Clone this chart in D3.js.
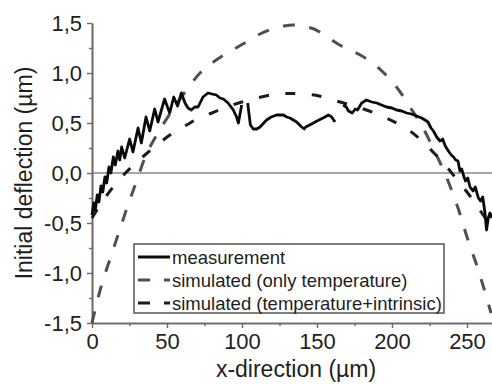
<!DOCTYPE html>
<html><head><meta charset="utf-8">
<script src="https://cdn.jsdelivr.net/npm/d3@7/dist/d3.min.js"></script>
<style>
html,body{margin:0;padding:0;background:#fff;}
svg{display:block;font-family:"Liberation Sans",Arial,sans-serif;}
</style></head>
<body>
<svg id="chart" width="492" height="385"></svg>
<script>
// ---- data ----
const xTickValues = [0, 50, 100, 150, 200, 250];
const xTickLabels = ["0", "50", "100", "150", "200", "250"];
const yTickValues = [-1.5, -1.0, -0.5, 0.0, 0.5, 1.0, 1.5];
const yTickLabels = ["-1,5", "-1,0", "-0,5", "0,0", "0,5", "1,0", "1,5"];
const xMinorTicks = [25, 75, 125, 175, 225];
const yMinorTicks = [-1.25, -0.75, -0.25, 0.25, 0.75, 1.25];
const legendLabels = ["measurement", "simulated (only temperature)", "simulated (temperature+intrinsic)"];
const xTitle = "x-direction (µm)";
const yTitle = "Initial deflection (µm)";

// measurement (null = gap)
const measX = [0,1.2,2.2,3.5,4.6,6.0,7.2,8.6,9.8,11.3,12.6,14.2,15.5,17.3,18.5,19.8,21.8,25.1,27.3,30.7,32.9,36.0,38.5,41.8,44.0,48.4,51.8,54.5,57.0,59.6,62.0,64.0,66.2,68.5,70.7,74.0,77.3,80.0,82.9,85.3,87.6,90.7,94.2,96.4,97.6,98.8,99.8,
  101.8,
  103.8,104.6,105.6,107.5,109.8,112.0,116.4,119.5,123.0,127.6,129.8,132.0,136.4,139.8,141.5,142.5,146.4,150.0,154.0,157.6,159.8,162.0,
  165.0,
  167.5,169.5,171.0,173.5,175.5,177.0,179.8,183.0,186.5,189.8,193.0,196.4,200.0,203.0,206.5,209.8,213.0,216.4,219.8,222.0,224.0,226.0,227.6,229.8,232.0,233.8,235.5,237.6,239.5,241.0,242.5,244.0,245.3,246.5,247.6,249.0,250.5,252.0,254.0,255.5,257.6,259.0,260.5,262.0,263.0,264.2,265.3,266.5];
const measY = [-0.42,-0.30,-0.37,-0.22,-0.29,-0.13,-0.19,-0.04,-0.10,0.06,0.00,0.16,0.08,0.22,0.13,0.26,0.15,0.34,0.21,0.45,0.30,0.56,0.42,0.64,0.51,0.74,0.60,0.76,0.67,0.80,0.70,0.65,0.63,0.66,0.66,0.76,0.80,0.79,0.78,0.75,0.74,0.70,0.63,0.56,0.50,0.60,0.68,
  null,
  0.70,0.60,0.48,0.44,0.44,0.46,0.53,0.56,0.58,0.58,0.56,0.55,0.51,0.46,0.44,0.46,0.49,0.52,0.55,0.58,0.56,0.51,
  null,
  0.68,0.66,0.62,0.60,0.64,0.63,0.70,0.73,0.71,0.70,0.68,0.66,0.65,0.63,0.62,0.60,0.59,0.57,0.55,0.53,0.51,0.45,0.42,0.36,0.32,0.34,0.27,0.22,0.18,0.16,0.13,0.12,0.02,0.04,-0.02,-0.08,-0.05,-0.14,-0.18,-0.14,-0.25,-0.28,-0.24,-0.40,-0.57,-0.45,-0.40,-0.45];

// simulated (only temperature)
const simTempX = [0,6,12,18,24,30,36,42,48,56,64,72,80,88,96,104,112,120,128,134,140,148,156,164,172,180,188,196,204,212,220,228,236,244,250,256,261,266];
const simTempY = [-1.5,-1.14,-0.86,-0.59,-0.32,-0.07,0.18,0.35,0.5,0.68,0.85,1.0,1.1,1.18,1.25,1.32,1.39,1.44,1.47,1.48,1.47,1.44,1.37,1.29,1.23,1.17,1.09,0.98,0.84,0.66,0.47,0.23,-0.03,-0.35,-0.64,-0.9,-1.14,-1.4];

// simulated (temperature+intrinsic)
const simIntX = [0,5,10,18,27,36,45,53,62,70,80,89,100,110,123,132,141,150,158,170,182,194,203,212,220,228,236,244,252,259,266];
const simIntY = [-0.45,-0.33,-0.22,-0.07,0.07,0.19,0.3,0.39,0.47,0.54,0.6,0.655,0.71,0.75,0.79,0.795,0.79,0.775,0.74,0.69,0.635,0.565,0.5,0.42,0.32,0.2,0.07,-0.08,-0.23,-0.38,-0.53];

// ---- layout ----
const svg = d3.select("#chart");
const L = 92, R = 492, T = 23, B = 323;
const x = d3.scaleLinear().domain([0, 266.67]).range([L, R]);
const y = d3.scaleLinear().domain([-1.5, 1.5]).range([B, T]);
const axisCol = "#6a6a6a", textCol = "#1e1e1e";

// zero line
svg.append("line").attr("x1", L).attr("x2", R).attr("y1", y(0)).attr("y2", y(0))
  .attr("stroke", "#8a8a8a").attr("stroke-width", 1.6);

// axes
const xAxis = svg.append("g").attr("transform", `translate(0,${B})`)
  .call(d3.axisBottom(x).tickValues(xTickValues).tickFormat((d,i)=>xTickLabels[i]).tickSize(5).tickSizeOuter(0).tickPadding(4));
const xMinor = svg.append("g").attr("transform", `translate(0,${B})`)
  .call(d3.axisBottom(x).tickValues(xMinorTicks).tickFormat("").tickSize(3).tickSizeOuter(0));
const yAxis = svg.append("g").attr("transform", `translate(${L},0)`)
  .call(d3.axisLeft(y).tickValues(yTickValues).tickFormat((d,i)=>yTickLabels[i]).tickSize(5).tickSizeOuter(0).tickPadding(5));
const yMinor = svg.append("g").attr("transform", `translate(${L},0)`)
  .call(d3.axisLeft(y).tickValues(yMinorTicks).tickFormat("").tickSize(3).tickSizeOuter(0));
[xAxis, xMinor, yAxis, yMinor].forEach(g => {
  g.selectAll(".domain").attr("stroke", axisCol).attr("stroke-width", 1.6);
  g.selectAll(".tick line").attr("stroke", axisCol).attr("stroke-width", 1.4);
  g.selectAll(".tick text").attr("fill", textCol).attr("font-size", 22)
    .attr("font-family", "'Liberation Sans', Arial, sans-serif");
});
xAxis.selectAll(".tick text").attr("dy", "0.78em");

// titles
svg.append("text").attr("x", (L + R) / 2 + 4).attr("y", 377).attr("text-anchor", "middle")
  .attr("font-size", 23).attr("fill", textCol).text(xTitle);
svg.append("text").attr("transform", `translate(32,${(T + B) / 2}) rotate(-90)`).attr("text-anchor", "middle")
  .attr("font-size", 23).attr("fill", textCol).text(yTitle);

// lines
const mk = (xs, ys) => xs.map((v, i) => [v, ys[i]]);
const lineSmooth = d3.line().x(d => x(d[0])).y(d => y(d[1])).curve(d3.curveCatmullRom.alpha(0.5));
const lineRaw = d3.line().defined(d => d[1] !== null).x(d => x(d[0])).y(d => y(d[1]));

const plot = svg.append("g");
plot.append("path").attr("d", lineSmooth(mk(simTempX, simTempY))).attr("fill", "none")
  .attr("stroke", "#505050").attr("stroke-width", 3).attr("stroke-dasharray", "12,14.5");
plot.append("path").attr("d", lineSmooth(mk(simIntX, simIntY))).attr("fill", "none")
  .attr("stroke", "#1c1c1c").attr("stroke-width", 3).attr("stroke-dasharray", "10,16.5");
plot.append("path").attr("d", lineRaw(mk(measX, measY))).attr("fill", "none")
  .attr("stroke", "#0a0a0a").attr("stroke-width", 2.8).attr("stroke-linejoin", "round");

// legend
const lg = svg.append("g");
lg.append("rect").attr("x", 134).attr("y", 244).attr("width", 310).attr("height", 69)
  .attr("fill", "#fff").attr("stroke", "#555").attr("stroke-width", 1.5);
const legStyles = [
  {col: "#0a0a0a", dash: null},
  {col: "#505050", dash: "12,14"},
  {col: "#1c1c1c", dash: "12,14"}
];
const rowY = [257, 280, 303];
legendLabels.forEach((lab, i) => {
  const ln = lg.append("line").attr("x1", 138).attr("x2", 170).attr("y1", rowY[i]).attr("y2", rowY[i])
    .attr("stroke", legStyles[i].col).attr("stroke-width", 3);
  if (legStyles[i].dash) ln.attr("stroke-dasharray", legStyles[i].dash);
  lg.append("text").attr("x", 172).attr("y", rowY[i] + 6.5).attr("font-size", 18.5)
    .attr("fill", textCol).text(lab);
});
</script>
</body></html>
